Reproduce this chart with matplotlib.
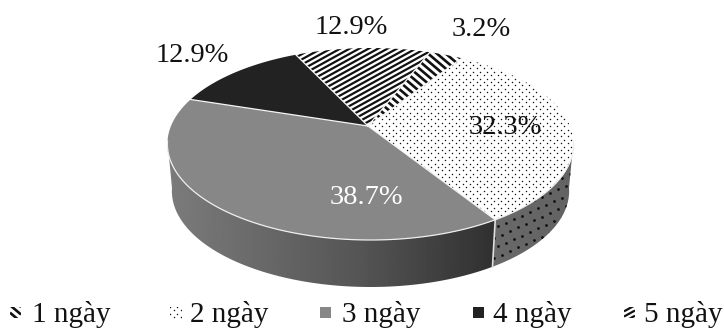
import numpy as np
import matplotlib
matplotlib.use("Agg")
import matplotlib.pyplot as plt
from matplotlib.patches import Polygon, Rectangle

plt.rcParams['font.family'] = ['Liberation Serif', 'DejaVu Serif']

# shares per slice, clockwise
categories = ["1 ngày", "2 ngày", "3 ngày", "4 ngày", "5 ngày"]
values = [3.2, 32.3, 38.7, 12.9, 12.9]
slice_fills = ["#ffffff", "#ffffff", "#878787", "#222222", "#ffffff"]
label_pos = [(481, 30), (505, 128), (366, 198), (192, 55), (351, 28)]
label_colors = ["#111111", "#111111", "#ffffff", "#111111", "#111111"]
legend_swatch_x = [10, 170, 320, 473, 624]
legend_text_x = [32, 190, 342, 493, 644]

START_ANGLE = 20.5
CX, CY = 370.5, 126.0
APEX_X = 368.0
K, A, B = 199.5, -69.0, 0.1875
DEPTH = 47.0
SHRINK = 0.978


def project(theta, bottom=False):
    # tilted circle -> screen, theta clockwise from the back of the pie
    t = np.radians(theta)
    x, y = np.sin(t), np.cos(t)
    d = 1 + B * y
    sx = K * x / d
    sy = (CY + A * y) / d
    if bottom:
        return CX + sx * SHRINK, sy + DEPTH
    return CX + sx, sy


def rim(t0, t1, bottom=False):
    th = np.linspace(t0, t1, 120)
    return np.column_stack(project(th, bottom))


def stripes(ax, clip, x0, x1, y0, y1, slope, gap, lw):
    # parallel stripes across a box, clipped to a patch
    offs = np.arange(y0 - abs(slope) * (x1 - x0) - gap, y1 + abs(slope) * (x1 - x0) + gap, gap)
    for o in offs:
        line, = ax.plot([x0, x1], [o, o + slope * (x1 - x0)], color="#111111", lw=lw,
                        solid_capstyle="butt", zorder=3)
        line.set_clip_path(clip)


def dots(ax, clip, x0, x1, y0, y1, dx, dy, size, shear=0.0):
    rows = np.arange(y0, y1, dy)
    xs, ys = [], []
    for i, r in enumerate(rows):
        cols = np.arange(x0 + (i % 2) * dx / 2, x1, dx)
        xs.extend(cols)
        ys.extend(r + shear * (cols - x0))
    pts = ax.scatter(xs, ys, s=size, c="#111111", linewidths=0, zorder=3)
    pts.set_clip_path(clip)


def gradient(ax, clip, xs, levels, x0, x1, y0, y1):
    grid = np.linspace(x0, x1, 256)
    row = np.interp(grid, xs, levels) / 255.0
    im = ax.imshow(row[np.newaxis, :], cmap="gray", vmin=0, vmax=1, aspect="auto",
                   extent=(x0, x1, y1, y0), zorder=1, interpolation="bilinear")
    im.set_clip_path(clip)


def add_pattern(ax, idx, clip, box):
    x0, x1, y0, y1 = box
    if idx == 0:
        stripes(ax, clip, x0, x1, y0, y1, 0.85, 7.5, 1.9)
    elif idx == 1:
        dots(ax, clip, x0, x1, y0, y1, 7.0, 3.4, 1.1)
    elif idx == 4:
        stripes(ax, clip, x0, x1, y0, y1, -0.55, 5.2, 1.6)


fig = plt.figure(figsize=(7.24, 3.28), dpi=100)
ax = fig.add_axes([0, 0, 1, 1])

# slice boundaries
bounds = START_ANGLE + np.concatenate([[0], np.cumsum(values)]) * 3.6
edge_2_3 = bounds[2]

# side wall
side_grey = np.vstack([rim(edge_2_3, 261), rim(261, edge_2_3, True)])
p = Polygon(side_grey, closed=True, fc="none", ec="none", transform=ax.transData)
ax.add_patch(p)
gradient(ax, p, [165, 360, 497], [0x7c, 0x55, 0x30], 165, 500, 130, 300)

side_dot = np.vstack([rim(99, edge_2_3), rim(edge_2_3, 99, True)])
p2 = Polygon(side_dot, closed=True, fc="none", ec="none", transform=ax.transData)
ax.add_patch(p2)
gradient(ax, p2, [495, 575], [0x6a, 0x62], 490, 580, 130, 300)
dots(ax, p2, 490, 580, 190, 300, 8.0, 10.0, 4.0, shear=-0.45)

# divider on the wall
top_pt = project(edge_2_3)
bot_pt = project(edge_2_3, True)
ax.plot([top_pt[0], bot_pt[0]], [top_pt[1], bot_pt[1]], color="#dddddd", lw=1.2, zorder=4)

# top face
for i, v in enumerate(values):
    pts = np.vstack([[APEX_X, CY], rim(bounds[i], bounds[i + 1])])
    wedge = Polygon(pts, closed=True, fc=slice_fills[i], ec="none", zorder=2, transform=ax.transData)
    ax.add_patch(wedge)
    add_pattern(ax, i, wedge, (pts[:, 0].min(), pts[:, 0].max(), pts[:, 1].min(), pts[:, 1].max()))

# white seams between slices and along the front rim
for b in bounds[:-1]:
    px, py = project(b)
    ax.plot([APEX_X, px], [CY, py], color="#f4f4f4", lw=0.9, zorder=4)
front = rim(edge_2_3 - 48, 261)
ax.plot(front[:, 0], front[:, 1], color="#eeeeee", lw=0.9, zorder=4)

# percentage labels
for i, v in enumerate(values):
    ax.text(label_pos[i][0], label_pos[i][1], f"{v}%", fontsize=20.5, color=label_colors[i],
            ha="center", va="center", zorder=5)

# legend row
for i, name in enumerate(categories):
    sx = legend_swatch_x[i]
    sw = Rectangle((sx, 307), 11, 11, fc=slice_fills[i], ec="none", zorder=2)
    ax.add_patch(sw)
    add_pattern(ax, i, sw, (sx, sx + 11, 307, 318))
    ax.text(legend_text_x[i], 321.5, name, fontsize=21, color="#111111", ha="left",
            va="baseline", zorder=5)

ax.set_xlim(0, 724)
ax.set_ylim(328, 0)
ax.axis("off")
fig.savefig("out.png", dpi=100, facecolor="white")
